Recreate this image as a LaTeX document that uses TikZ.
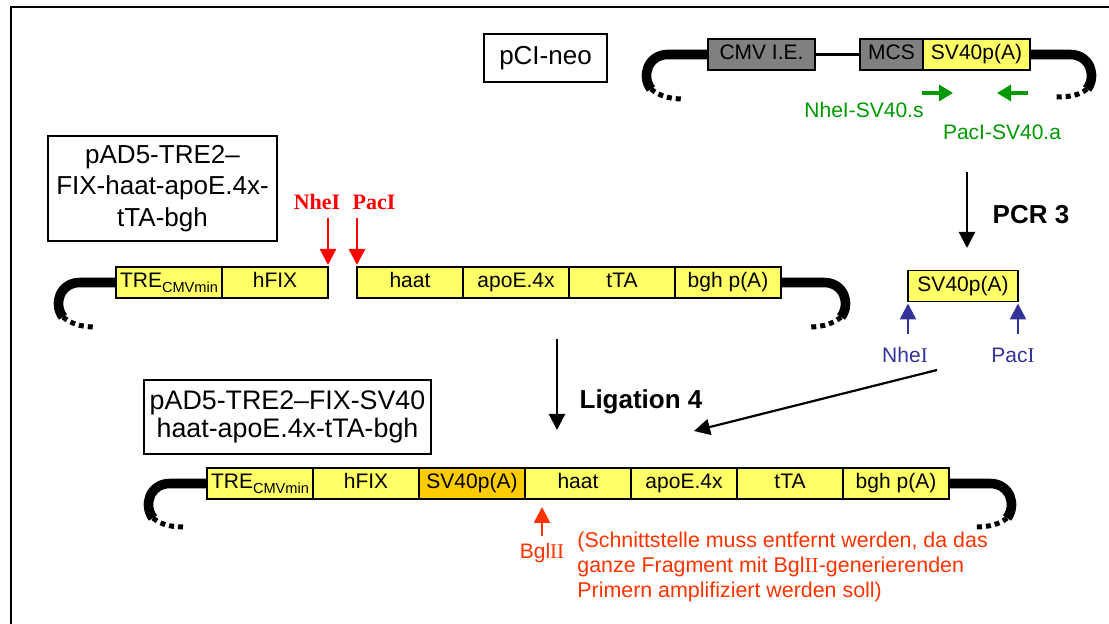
\documentclass[tikz,border=0pt]{standalone}
\usepackage{fontspec}
\setmainfont{Liberation Sans}
\newfontfamily\cutfont{Liberation Serif}
\usepackage{xcolor}
\usetikzlibrary{arrows.meta,positioning}
\definecolor{segyellow}{RGB}{255,255,102}
\definecolor{segorange}{RGB}{255,204,0}
\definecolor{boxgray}{RGB}{128,128,128}
\definecolor{primergreen}{RGB}{0,153,0}
\definecolor{cutred}{RGB}{255,0,0}
\definecolor{siteblue}{RGB}{51,51,153}
\definecolor{noteorange}{RGB}{255,51,0}

\begin{document}
\begin{tikzpicture}[
	x=0.5pt, y=-0.5pt,
	every node/.style={font=\fontsize{10.5}{12}\selectfont},
	segbox/.style={draw, line width=0.8pt, outer sep=0pt, inner sep=0pt, minimum width=53pt, minimum height=15.5pt, text height=7.8pt, text depth=2.4pt, fill=segyellow},
	titlebox/.style={draw, line width=1pt, inner sep=0pt, align=center, font=\fontsize{13}{15.75}\selectfont},
	steplabel/.style={font=\bfseries\fontsize{13}{15}\selectfont},
	backbone/.style={line width=4.8pt},
	tail/.style={line width=2.5pt, dash pattern=on 2.5pt off 2pt},
	arrow/.style={-{Triangle[length=8pt,width=8pt]}, line width=1.1pt},
	primer/.style={-{Triangle[length=7pt,width=8pt]}, line width=1.6pt, primergreen},
	cutarrow/.style={-{Triangle[length=8pt,width=8pt]}, line width=1.2pt, cutred, shorten >=1pt},
	sitearrow/.style={-{Triangle[length=8pt,width=8pt]}, line width=1.3pt, siteblue, shorten >=1pt},
	bglarrow/.style={-{Triangle[length=8pt,width=8pt]}, line width=1.3pt, noteorange, shorten >=4pt}
	]
	
	\useasboundingbox (0,0) rectangle (1109,624);
	\draw[line width=1pt] (11,624) -- (11,7.5) -- (1109,7.5);
	
	% pCI-neo
	\node[titlebox, minimum width=61.5pt, minimum height=24pt] (pcineo) at (545.5,58) {pCI-neo};
	\node[segbox, fill=boxgray, anchor=west, minimum width=53.5pt] (cmv) at (708,54.5) {CMV I.E.};
	\node[segbox, fill=boxgray, anchor=west, minimum width=31.5pt] (mcs) at (860,54.5) {MCS};
	\node[segbox, right=0pt of mcs, minimum width=53.5pt] (sv40a) {SV40p(A)};
	\draw[line width=1.5pt] (cmv.east) -- (mcs.west);
	\draw[backbone] (cmv.west) -- (668,54.5) .. controls (648,54.5) and (641,76) .. (651,89);
	\draw[tail] (651,89) .. controls (658,95) and (668,99) .. (683,99);
	\draw[backbone] (sv40a.east) -- (1070,54.5) .. controls (1090,54.5) and (1097,76) .. (1087,89);
	\draw[tail] (1087,89) .. controls (1080,95) and (1070,97) .. (1056,97);
	
	% primers
	\coordinate (fwdtail) at (922,93);
	\coordinate (fwdhead) at (953,93);
	\coordinate (revtail) at (1028,93);
	\coordinate (revhead) at (997,93);
	\draw[primer] (fwdtail) -- (fwdhead);
	\draw[primer] (revtail) -- (revhead);
	\node[text=primergreen] (fwdname) at (864,110) {NheI-SV40.s};
	\node[text=primergreen] (revname) at (1002,132) {PacI-SV40.a};
	
	% PCR product
	\node[segbox, minimum width=55pt] (sv40pcr) at (963,286) {SV40p(A)};
	\coordinate (pcrstart) at (967,172);
	\coordinate (pcrend) at (967,248);
	\draw[arrow] (pcrstart) -- (pcrend);
	\node[steplabel] (pcrname) at (1031,215) {PCR 3};
	\node[text=siteblue] (nheb) at (905,355) {Nhe{\cutfont I}};
	\node[text=siteblue] (pacb) at (1013,355) {Pac{\cutfont I}};
	\coordinate (nhebtail) at (908,334);
	\coordinate (pacbtail) at (1018,334);
	\draw[sitearrow] (nhebtail) -- (nhebtail |- sv40pcr.south);
	\draw[sitearrow] (pacbtail) -- (pacbtail |- sv40pcr.south);
	
	% source vector
	\node[titlebox, minimum width=114.5pt, minimum height=52.5pt] (source) at (162.5,188.5) {pAD5-TRE2–\\FIX-haat-apoE.4x-\\tTA-bgh};
	\node[segbox, anchor=west] (tre1) at (116,282.5) {TRE\raisebox{-0.45ex}{\fontsize{7.3}{8}\selectfont CMVmin}};
	\node[segbox, right=0pt of tre1] (hfix1) {hFIX};
	\node[segbox, anchor=west] (haat1) at (357,282.5) {haat};
	\node[segbox, right=0pt of haat1] (apoe1) {apoE.4x};
	\node[segbox, right=0pt of apoe1] (tta1) {tTA};
	\node[segbox, right=0pt of tta1] (bgh1) {bgh p(A)};
	\draw[backbone] (tre1.west) -- (80,282.5) .. controls (60,282.5) and (53,304) .. (63,317);
	\draw[tail] (63,317) .. controls (70,323) and (80,327) .. (95,327);
	\draw[backbone] (bgh1.east) -- (824,282.5) .. controls (844,282.5) and (851,304) .. (841,317);
	\draw[tail] (841,317) .. controls (834,323) and (824,327) .. (809,327);
	
	\node[text=cutred, font=\cutfont\bfseries\fontsize{11}{12}\selectfont] (nher) at (317,202) {NheI};
	\node[text=cutred, font=\cutfont\bfseries\fontsize{11}{12}\selectfont] (pacr) at (374,202) {PacI};
	\coordinate (nhertail) at (328,218);
	\coordinate (pacrtail) at (357,218);
	\draw[cutarrow] (nhertail) -- (hfix1.north east);
	\draw[cutarrow] (pacrtail) -- (haat1.north west);
	
	% ligation
	\coordinate (ligstart) at (557,339);
	\coordinate (ligend) at (557,430);
	\draw[arrow] (ligstart) -- (ligend);
	\node[steplabel] (ligname) at (641,402) {Ligation 4};
	\coordinate (inserttail) at (937,370);
	\coordinate (inserthead) at (694,431);
	\draw[arrow] (inserttail) -- (inserthead);
	
	% product vector
	\node[titlebox, font=\fontsize{13.4}{14}\selectfont, minimum width=143.5pt, minimum height=37pt] (product) at (287.5,417) {pAD5-TRE2–FIX-SV40\\haat-apoE.4x-tTA-bgh};
	\node[segbox, anchor=west] (tre2) at (207,483.5) {TRE\raisebox{-0.45ex}{\fontsize{7.3}{8}\selectfont CMVmin}};
	\node[segbox, right=0pt of tre2] (hfix2) {hFIX};
	\node[segbox, right=0pt of hfix2, fill=segorange] (sv40b) {SV40p(A)};
	\node[segbox, right=0pt of sv40b] (haat2) {haat};
	\node[segbox, right=0pt of haat2] (apoe2) {apoE.4x};
	\node[segbox, right=0pt of apoe2] (tta2) {tTA};
	\node[segbox, right=0pt of tta2] (bgh2) {bgh p(A)};
	\draw[backbone] (tre2.west) -- (170,483.5) .. controls (150,483.5) and (143,505) .. (153,518);
	\draw[tail] (153,518) .. controls (160,524) and (170,527) .. (183,527);
	\draw[backbone] (bgh2.east) -- (990,483.5) .. controls (1010,483.5) and (1017,505) .. (1007,518);
	\draw[tail] (1007,518) .. controls (1000,524) and (990,527) .. (975,527);
	
	\node[text=noteorange] (bgl) at (542,553) {Bgl{\cutfont II}};
	\draw[bglarrow] (bgl.north) -- (bgl.north |- haat2.south);
	\node[text=noteorange, anchor=west, align=left, inner sep=0pt, font=\fontsize{10.7}{12.5}\selectfont] (note) at (577,567) {(Schnittstelle muss entfernt werden, da das\\ganze Fragment mit Bgl{\cutfont II}-generierenden\\Primern amplifiziert werden soll)};
	
\end{tikzpicture}
\end{document}
